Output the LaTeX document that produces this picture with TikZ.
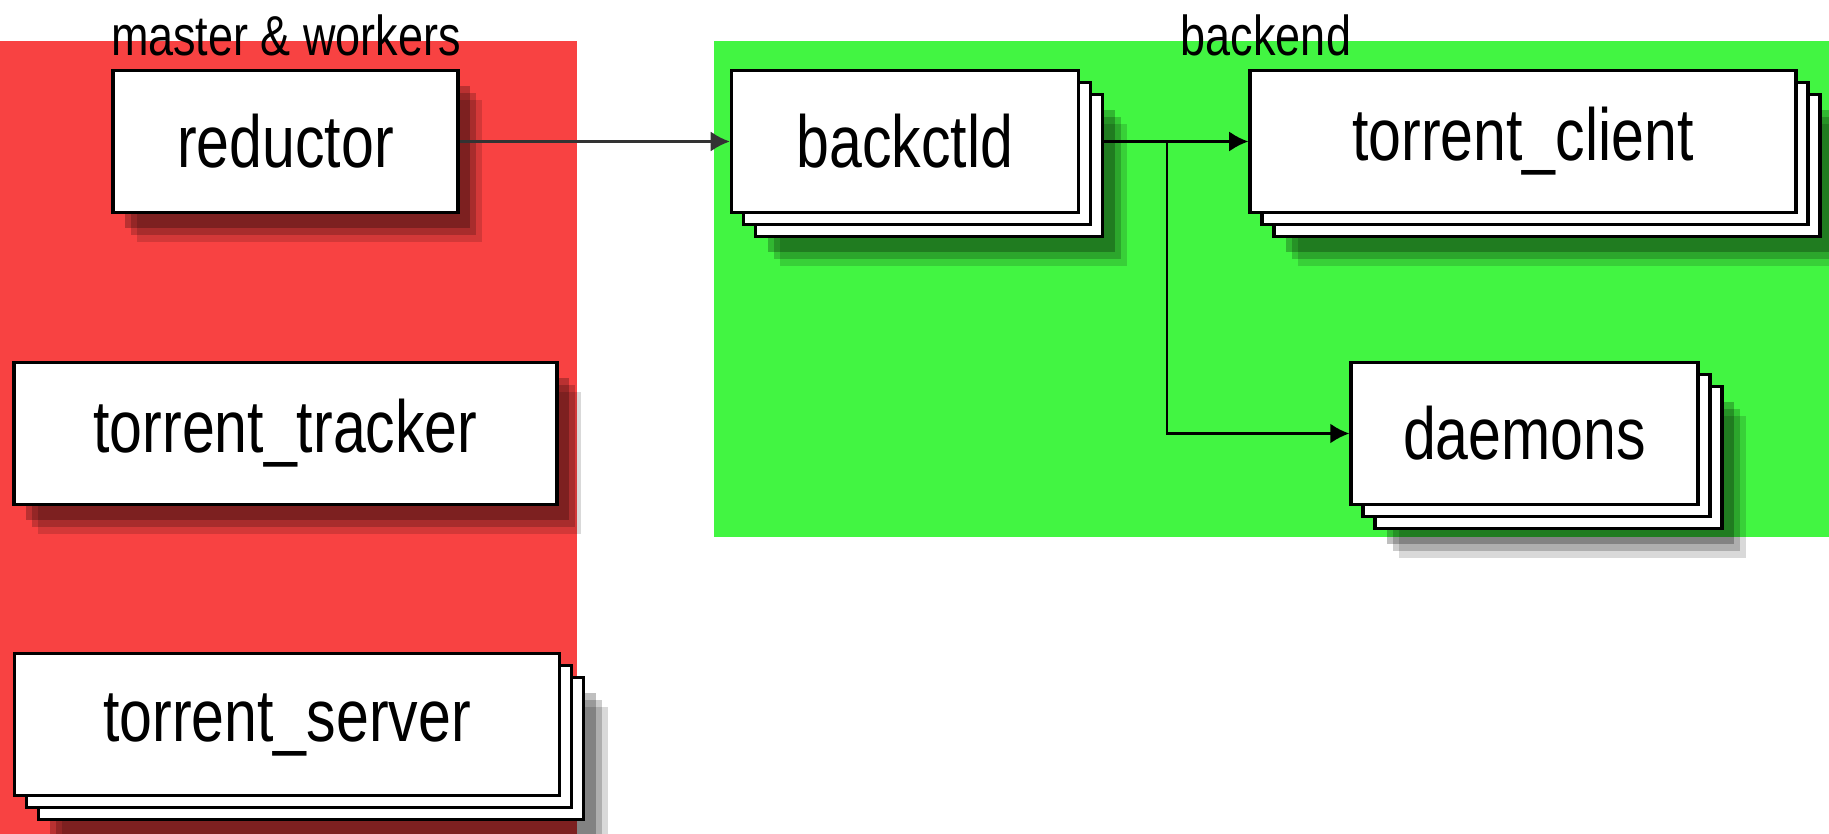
\documentclass[tikz,border=0pt]{standalone}
\usepackage{fontspec}
\setmainfont[FakeStretch=0.8]{Liberation Sans}
\usetikzlibrary{shadows,arrows.meta}

\definecolor{workerred}{RGB}{248,66,66}
\definecolor{backendgreen}{RGB}{66,245,66}

\begin{document}
\begin{tikzpicture}[
	softshadow/.style={
		drop shadow={shadow xshift=#1+2.4mm, shadow yshift=-#1-3mm, opacity=0.15, fill=black},
		drop shadow={shadow xshift=#1+1.8mm, shadow yshift=-#1-2.3mm, opacity=0.2, fill=black},
		drop shadow={shadow xshift=#1+1.2mm, shadow yshift=-#1-1.6mm, opacity=0.25, fill=black}},
	comp/.style={draw, fill=white, line width=1pt, minimum height=1.42cm, inner sep=0pt,
		font=\fontsize{21}{21}\selectfont},
	single/.style={softshadow=0mm},
	stacked/.style={softshadow=2.4mm,
		copy shadow={shadow xshift=2.4mm, shadow yshift=-2.4mm, line width=1pt},
		copy shadow={shadow xshift=1.2mm, shadow yshift=-1.2mm, line width=1pt}},
	grouplabel/.style={font=\fontsize{16}{16}\selectfont},
	flow/.style={line width=0.6pt, -{Latex[length=1.9mm, width=2mm]}}]
	\useasboundingbox (0, 0) rectangle (18.29, 8.34);

	% the two groups
	\fill[workerred] (0, 0) rectangle (5.77, 7.93);
	\fill[backendgreen] (7.14, 2.97) rectangle (18.29, 7.93);
	\node[grouplabel] (mwlabel) at (2.86, 7.99) {master \& workers};
	\node[grouplabel] (belabel) at (12.66, 7.99) {backend};

	\node[comp, single, minimum width=3.45cm] (reductor) at (2.855, 6.925) {reductor};
	\node[comp, single, minimum width=5.43cm] (tracker) at (2.855, 4.005) {torrent\_tracker};
	\node[comp, stacked, minimum width=5.45cm] (server) at (2.87, 1.095) {torrent\_server};

	\node[comp, stacked, minimum width=3.47cm] (backctld) at (9.05, 6.925) {backctld};
	\node[comp, stacked, minimum width=5.46cm] (client) at (15.23, 6.925) {torrent\_client};
	\node[comp, stacked, minimum width=3.47cm] (daemons) at (15.245, 4.005) {daemons};

	\coordinate (split) at (11.67, 6.925);

	\draw[flow, black!80] (reductor.east) -- (backctld.west);
	\draw[flow] ([xshift=2.4mm]backctld.east) -- (split) -- (client.west);
	\draw[flow] (split) |- (daemons.west);
\end{tikzpicture}
\end{document}
